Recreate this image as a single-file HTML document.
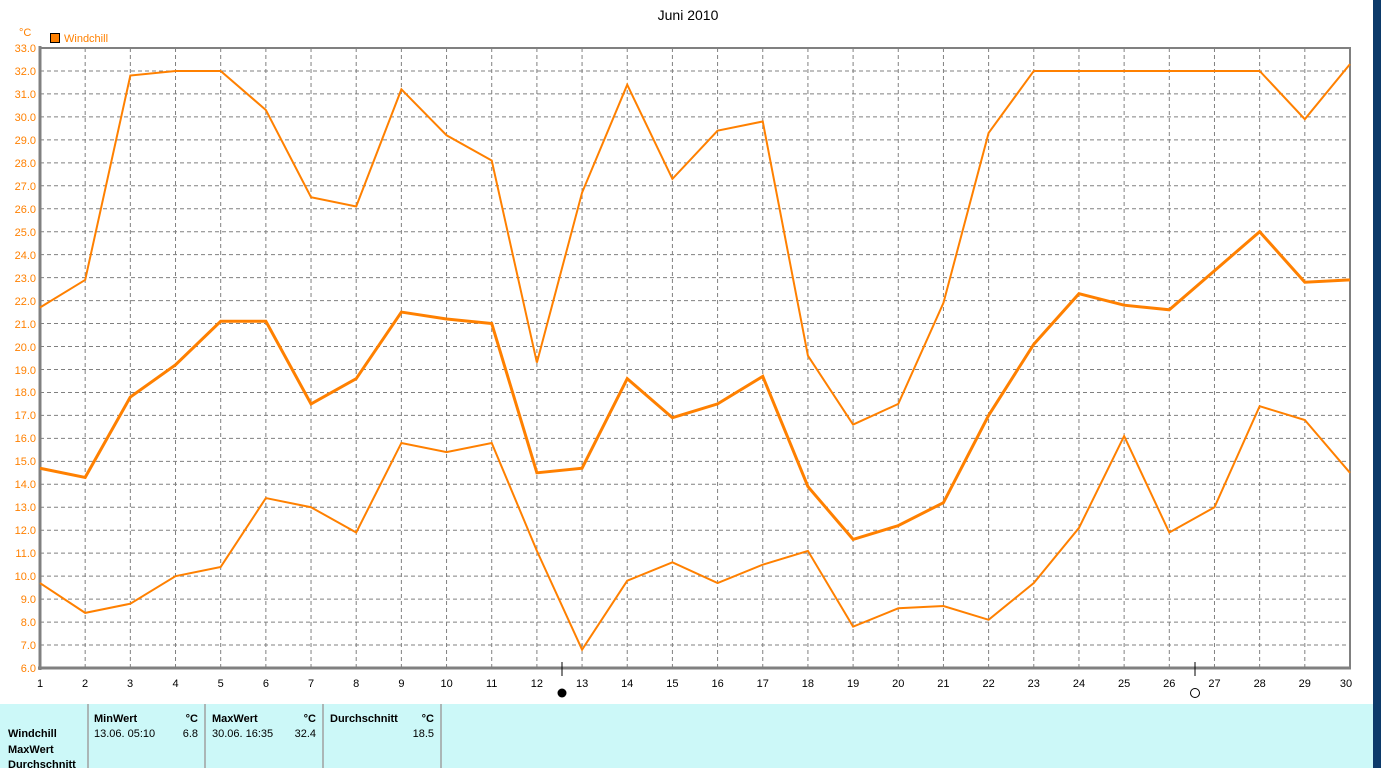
<!DOCTYPE html>
<html><head><meta charset="utf-8"><style>
body{margin:0;width:1381px;height:768px;overflow:hidden;background:#fff;font-family:"Liberation Sans",sans-serif;}
svg{position:absolute;left:0;top:0}
.t{position:absolute;font-size:11px;}
</style></head><body>
<svg width="1381" height="768" font-family="Liberation Sans, sans-serif">
<rect x="1373" y="0" width="8" height="768" fill="#0c3a6a"/>
<text x="688" y="20" font-size="14" text-anchor="middle" fill="#000">Juni 2010</text>
<text x="19" y="36" font-size="11" fill="#ff8000">°C</text>
<rect x="50.5" y="33.5" width="9" height="9" fill="#ff8000" stroke="#000"/>
<text x="64" y="42" font-size="11" fill="#ff8000">Windchill</text>
<g transform="translate(-5.172,805.78) scale(45.172,-22.963)" stroke="#808080" stroke-width="1" stroke-dasharray="4,3" vector-effect="non-scaling-stroke" fill="none">
<path vector-effect="non-scaling-stroke" d="M2 6V33M3 6V33M4 6V33M5 6V33M6 6V33M7 6V33M8 6V33M9 6V33M10 6V33M11 6V33M12 6V33M13 6V33M14 6V33M15 6V33M16 6V33M17 6V33M18 6V33M19 6V33M20 6V33M21 6V33M22 6V33M23 6V33M24 6V33M25 6V33M26 6V33M27 6V33M28 6V33M29 6V33"/>
<path vector-effect="non-scaling-stroke" d="M1 7H30M1 8H30M1 9H30M1 10H30M1 11H30M1 12H30M1 13H30M1 14H30M1 15H30M1 16H30M1 17H30M1 18H30M1 19H30M1 20H30M1 21H30M1 22H30M1 23H30M1 24H30M1 25H30M1 26H30M1 27H30M1 28H30M1 29H30M1 30H30M1 31H30M1 32H30"/>
</g>
<rect x="40" y="48" width="1310" height="620" fill="none" stroke="#808080" stroke-width="2"/>
<line x1="40" y1="46" x2="40" y2="670" stroke="#808080" stroke-width="3"/>
<line x1="38" y1="668" x2="1351" y2="668" stroke="#808080" stroke-width="3"/>
<g transform="translate(-5.172,805.78) scale(45.172,-22.963)" fill="none" stroke="#ff8000">
<polyline vector-effect="non-scaling-stroke" stroke-width="2" points="1,21.7 2,22.9 3,31.8 4,32 5,32 6,30.3 7,26.5 8,26.1 9,31.2 10,29.2 11,28.1 12,19.3 13,26.7 14,31.4 15,27.3 16,29.4 17,29.8 18,19.6 19,16.6 20,17.5 21,21.9 22,29.3 23,32 24,32 25,32 26,32 27,32 28,32 29,29.9 30,32.3"/>
<polyline vector-effect="non-scaling-stroke" stroke-width="3" points="1,14.7 2,14.3 3,17.8 4,19.2 5,21.1 6,21.1 7,17.5 8,18.6 9,21.5 10,21.2 11,21 12,14.5 13,14.7 14,18.6 15,16.9 16,17.5 17,18.7 18,13.9 19,11.6 20,12.2 21,13.2 22,17 23,20.1 24,22.3 25,21.8 26,21.6 27,23.3 28,25 29,22.8 30,22.9"/>
<polyline vector-effect="non-scaling-stroke" stroke-width="2" points="1,9.7 2,8.4 3,8.8 4,10 5,10.4 6,13.4 7,13 8,11.9 9,15.8 10,15.4 11,15.8 12,11.1 13,6.8 14,9.8 15,10.6 16,9.7 17,10.5 18,11.1 19,7.8 20,8.6 21,8.7 22,8.1 23,9.7 24,12.1 25,16.1 26,11.9 27,13 28,17.4 29,16.8 30,14.5"/>
</g>
<g font-size="11" fill="#ff8000" text-anchor="end">
<text x="36" y="52">33.0</text><text x="36" y="75">32.0</text><text x="36" y="98">31.0</text><text x="36" y="121">30.0</text><text x="36" y="144">29.0</text><text x="36" y="167">28.0</text><text x="36" y="190">27.0</text><text x="36" y="213">26.0</text><text x="36" y="236">25.0</text><text x="36" y="259">24.0</text><text x="36" y="282">23.0</text><text x="36" y="305">22.0</text><text x="36" y="328">21.0</text><text x="36" y="351">20.0</text><text x="36" y="374">19.0</text><text x="36" y="396">18.0</text><text x="36" y="419">17.0</text><text x="36" y="442">16.0</text><text x="36" y="465">15.0</text><text x="36" y="488">14.0</text><text x="36" y="511">13.0</text><text x="36" y="534">12.0</text><text x="36" y="557">11.0</text><text x="36" y="580">10.0</text><text x="36" y="603">9.0</text><text x="36" y="626">8.0</text><text x="36" y="649">7.0</text><text x="36" y="672">6.0</text>
</g>
<g font-size="11" fill="#000" text-anchor="middle">
<text x="40" y="687">1</text><text x="85" y="687">2</text><text x="130" y="687">3</text><text x="175.5" y="687">4</text><text x="220.7" y="687">5</text><text x="265.9" y="687">6</text><text x="311" y="687">7</text><text x="356.2" y="687">8</text><text x="401.4" y="687">9</text><text x="446.6" y="687">10</text><text x="491.7" y="687">11</text><text x="536.9" y="687">12</text><text x="582.1" y="687">13</text><text x="627.2" y="687">14</text><text x="672.4" y="687">15</text><text x="717.6" y="687">16</text><text x="762.8" y="687">17</text><text x="807.9" y="687">18</text><text x="853.1" y="687">19</text><text x="898.3" y="687">20</text><text x="943.4" y="687">21</text><text x="988.6" y="687">22</text><text x="1033.8" y="687">23</text><text x="1079" y="687">24</text><text x="1124.1" y="687">25</text><text x="1169.3" y="687">26</text><text x="1214.5" y="687">27</text><text x="1259.7" y="687">28</text><text x="1304.8" y="687">29</text><text x="1346" y="687">30</text>
</g>
<line x1="562" y1="662" x2="562" y2="676" stroke="#000"/>
<circle cx="562" cy="693" r="4.5" fill="#000"/>
<line x1="1195" y1="662" x2="1195" y2="676" stroke="#000"/>
<circle cx="1195" cy="693" r="4.5" fill="#fff" stroke="#000"/>
<rect x="0" y="704" width="1373" height="64" fill="#ccf8f8"/>
<g stroke="#a0a0a0" stroke-width="1.5"><line x1="88" y1="704" x2="88" y2="768"/><line x1="205" y1="704" x2="205" y2="768"/><line x1="323" y1="704" x2="323" y2="768"/><line x1="441" y1="704" x2="441" y2="768"/></g>
<g font-size="11" fill="#000">
<text x="8" y="737" font-weight="bold">Windchill</text>
<text x="8" y="753" font-weight="bold">MaxWert</text>
<text x="8" y="768" font-weight="bold">Durchschnitt</text>
<text x="94" y="722" font-weight="bold">MinWert</text><text x="198" y="722" font-weight="bold" text-anchor="end">°C</text>
<text x="94" y="737">13.06.  05:10</text><text x="198" y="737" text-anchor="end">6.8</text>
<text x="212" y="722" font-weight="bold">MaxWert</text><text x="316" y="722" font-weight="bold" text-anchor="end">°C</text>
<text x="212" y="737">30.06.  16:35</text><text x="316" y="737" text-anchor="end">32.4</text>
<text x="330" y="722" font-weight="bold">Durchschnitt</text><text x="434" y="722" font-weight="bold" text-anchor="end">°C</text>
<text x="434" y="737" text-anchor="end">18.5</text>
</g>
</svg>
</body></html>
